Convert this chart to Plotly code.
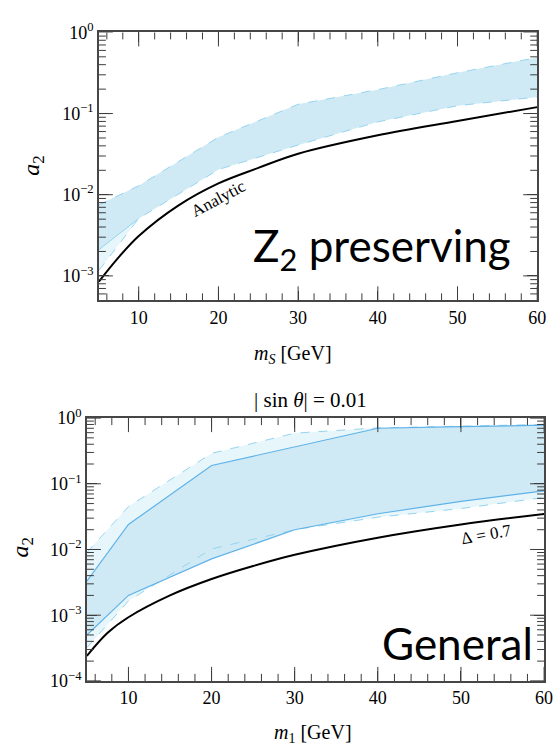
import plotly.graph_objects as go

W, H = 559, 754

# ---------------- data ----------------
# Top panel: Z2 preserving
x_top = [5, 10, 20, 30, 40, 50, 60]
band_up_top = [7.5e-3, 0.0129, 0.051, 0.13, 0.197, 0.318, 0.49]
band_low_outer_top = [1.17e-3, 5.1e-3, 0.0204, 0.041, 0.079, 0.125, 0.16]
band_low_inner_top = [2.1e-3, 5.1e-3, 0.0204, 0.041, 0.079, 0.125, 0.16]

x_analytic = [5, 7.5, 10, 15, 20, 25, 30, 40, 50, 60]
analytic_top = [8.5e-4, 1.7e-3, 3.1e-3, 7.4e-3, 0.0138, 0.0214, 0.032, 0.054, 0.081, 0.12]

# Bottom panel: General, |sin theta| = 0.01
x_bot = [5, 10, 20, 30, 40, 50, 60]
outer_up_bot = [9e-3, 0.045, 0.29, 0.59, 0.71, 0.745, 0.80]
inner_up_bot = [3.3e-3, 0.024, 0.19, 0.36, 0.70, 0.74, 0.78]
inner_low_bot = [5e-4, 2.0e-3, 7.2e-3, 0.020, 0.035, 0.054, 0.078]
outer_low_bot = [3.2e-4, 1.65e-3, 0.0102, 0.020, 0.031, 0.042, 0.062]

x_delta = [5, 7.5, 10, 15, 20, 25, 30, 40, 50, 60]
delta_bot = [2.4e-4, 5.4e-4, 9.3e-4, 2.0e-3, 3.55e-3, 5.6e-3, 8.3e-3, 0.0151, 0.024, 0.0347]

x_range = [5, 60]
y_range_top = [10 ** -3.301, 1]
y_range_bot = [1e-4, 1]

x_ticks = [10, 20, 30, 40, 50, 60]
x_minor_ticks = [6, 8, 12, 14, 16, 18, 22, 24, 26, 28, 32, 34, 36, 38, 42, 44, 46, 48, 52, 54, 56, 58]
y_ticks_top = [1, 0.1, 0.01, 0.001]
y_ticktext_top = ["10<sup>0</sup>", "10<sup>−1</sup>", "10<sup>−2</sup>", "10<sup>−3</sup>"]
y_ticks_bot = [1, 0.1, 0.01, 0.001, 0.0001]
y_ticktext_bot = ["10<sup>0</sup>", "10<sup>−1</sup>", "10<sup>−2</sup>", "10<sup>−3</sup>", "10<sup>−4</sup>"]
y_minor_ticks = [m * 10.0 ** e for e in range(-4, 0) for m in range(2, 10)]

# ---------------- styles ----------------
DARK_FILL = "rgb(207,234,245)"
LIGHT_FILL = "rgb(231,246,251)"
SOLID_LINE = "rgb(95,178,232)"
DASH_LINE = "rgb(150,212,238)"
AXIS = "rgb(70,70,70)"
TICK = "rgb(60,60,60)"
SERIF = "Liberation Serif"
SANS = "Lato"

fig = go.Figure()


def band(x, lo, hi, fill, xa, ya):
    fig.add_trace(go.Scatter(x=x, y=lo, mode="lines", line=dict(width=0),
                             xaxis=xa, yaxis=ya, showlegend=False, hoverinfo="skip"))
    fig.add_trace(go.Scatter(x=x, y=hi, mode="lines", line=dict(width=0),
                             fill="tonexty", fillcolor=fill,
                             xaxis=xa, yaxis=ya, showlegend=False, hoverinfo="skip"))


def line(x, y, color, width, dash, xa, ya, shape="linear"):
    fig.add_trace(go.Scatter(x=x, y=y, mode="lines",
                             line=dict(color=color, width=width, dash=dash, shape=shape),
                             xaxis=xa, yaxis=ya, showlegend=False, hoverinfo="skip"))


# top panel
band(x_top, band_low_outer_top, band_up_top, LIGHT_FILL, "x", "y")
band(x_top, band_low_inner_top, band_up_top, DARK_FILL, "x", "y")
line(x_top[:2], band_low_inner_top[:2], DASH_LINE, 1, "solid", "x", "y")
line(x_top, band_up_top, DASH_LINE, 1, "dash", "x", "y")
line(x_top, band_low_outer_top, DASH_LINE, 1, "dash", "x", "y")
line(x_analytic, analytic_top, "black", 2, "solid", "x", "y", "spline")

# bottom panel
band(x_bot, outer_low_bot, outer_up_bot, LIGHT_FILL, "x2", "y2")
band(x_bot, inner_low_bot, inner_up_bot, DARK_FILL, "x2", "y2")
line(x_bot, outer_up_bot, DASH_LINE, 1, "dash", "x2", "y2")
line(x_bot, outer_low_bot, DASH_LINE, 1, "dash", "x2", "y2")
line(x_bot, inner_up_bot, SOLID_LINE, 1.2, "solid", "x2", "y2")
line(x_bot, inner_low_bot, SOLID_LINE, 1.2, "solid", "x2", "y2")
line(x_delta, delta_bot, "black", 2, "solid", "x2", "y2", "spline")


# tick marks on all four sides: line markers centred on the frame, clipped to the plot area
def tick_markers(xa, ya, xs, ys, symbol, size):
    fig.add_trace(go.Scatter(x=xs, y=ys, mode="markers", cliponaxis=True,
                             marker=dict(symbol=symbol, size=size, color=TICK,
                                         line=dict(color=TICK, width=1)),
                             xaxis=xa, yaxis=ya, showlegend=False, hoverinfo="skip"))


def frame_ticks(xa, ya, yr):
    for vals, size in ((x_ticks, 20), (x_minor_ticks, 10)):
        xs = vals + vals
        ys = [yr[0]] * len(vals) + [yr[1]] * len(vals)
        tick_markers(xa, ya, xs, ys, "line-ns", size)
    major_y = [v for v in y_ticks_bot if yr[0] <= v <= yr[1]]
    minor_y = [v for v in y_minor_ticks if yr[0] <= v <= yr[1]]
    for vals, size in ((major_y, 20), (minor_y, 10)):
        xs = [x_range[0]] * len(vals) + [x_range[1]] * len(vals)
        ys = vals + vals
        tick_markers(xa, ya, xs, ys, "line-ew", size)


frame_ticks("x", "y", y_range_top)
frame_ticks("x2", "y2", y_range_bot)


def px_x(p):
    return p / W


def px_y(p):
    return 1 - p / H


def xaxis_cfg(domain, anchor):
    return dict(domain=domain, anchor=anchor, range=x_range,
                tickmode="array", tickvals=x_ticks,
                ticks="inside", ticklen=10, tickwidth=1, tickcolor=TICK,
                showline=True, linecolor=AXIS, linewidth=1.5, mirror="ticks",
                showgrid=False, zeroline=False,
                tickfont=dict(family=SERIF, size=18, color="black"))


def yaxis_cfg(domain, anchor, rng, tv, tt):
    return dict(domain=domain, anchor=anchor, type="log", range=rng,
                tickmode="array", tickvals=tv, ticktext=tt,
                ticks="inside", ticklen=10, tickwidth=1, tickcolor=TICK,
                showline=True, linecolor=AXIS, linewidth=1.5, mirror="ticks",
                showgrid=False, zeroline=False,
                tickfont=dict(family=SERIF, size=18, color="black"))


fig.update_layout(
    width=W, height=H, margin=dict(l=0, r=0, t=0, b=0), showlegend=False,
    paper_bgcolor="white", plot_bgcolor="white",
    xaxis=xaxis_cfg([px_x(100.5), px_x(546)], "y"),
    yaxis=yaxis_cfg([px_y(297), px_y(21)], "x", [-3.301, 0], y_ticks_top, y_ticktext_top),
    xaxis2=xaxis_cfg([px_x(88.3), px_x(553)], "y2"),
    yaxis2=yaxis_cfg([px_y(689), px_y(418.3)], "x2", [-4, 0], y_ticks_bot, y_ticktext_bot),
)

NB = "\u00a0"
ann = [
    dict(text="Analytic", x=px_x(222), y=px_y(192), textangle=-28,
         font=dict(family=SERIF, size=17, color="black")),
    dict(text="Z<sub>2</sub> preserving", x=px_x(388), y=px_y(244),
         font=dict(family=SANS, size=44, color="black")),
    dict(text="General", x=px_x(465), y=px_y(650),
         font=dict(family=SANS, size=44, color="black")),
    dict(text="Δ" + NB + "=" + NB + "0.7", x=px_x(494), y=px_y(538), textangle=-10,
         font=dict(family=SERIF, size=17, color="black")),
    dict(text="|" + NB + "sin" + NB + "<i>θ</i>|" + NB + "=" + NB + "0.01", x=px_x(316), y=px_y(400),
         font=dict(family=SERIF, size=21, color="black")),
    dict(text="<i>a</i><sub>2</sub>", x=px_x(34), y=px_y(158), textangle=-90,
         font=dict(family=SERIF, size=24, color="black")),
    dict(text="<i>a</i><sub>2</sub>", x=px_x(22), y=px_y(552), textangle=-90,
         font=dict(family=SERIF, size=24, color="black")),
    dict(text="<i>m</i><sub><i>S</i></sub> [GeV]", x=px_x(298), y=px_y(353),
         font=dict(family=SERIF, size=20, color="black")),
    dict(text="<i>m</i><sub>1</sub> [GeV]", x=px_x(318), y=px_y(743),
         font=dict(family=SERIF, size=20, color="black")),
]
for a in ann:
    a.update(xref="paper", yref="paper", showarrow=False, xanchor="center", yanchor="middle")
fig.update_layout(annotations=ann)

fig.write_html("out.html")
